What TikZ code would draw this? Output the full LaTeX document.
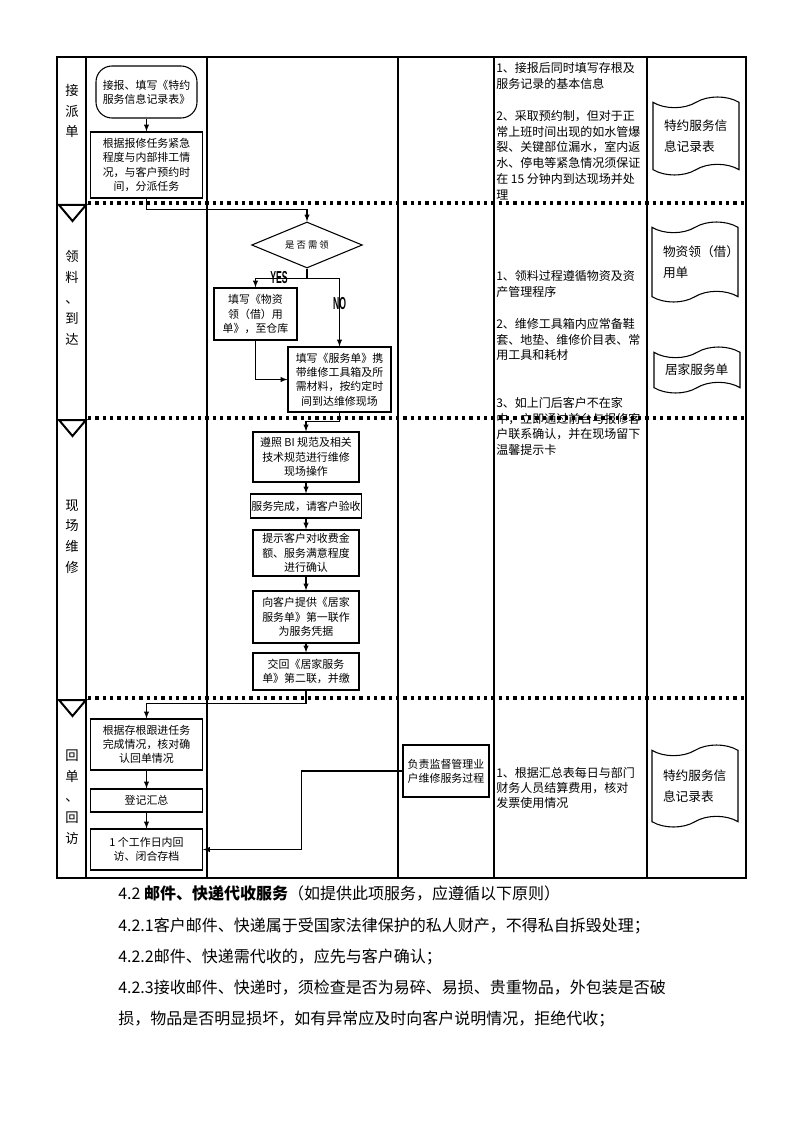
\documentclass[tikz,border=0pt]{standalone}
\usepackage{fontspec}
\setmainfont{Noto Sans CJK SC}
\newfontfamily\yesfont{Liberation Sans}
\usetikzlibrary{
    arrows,
    shapes.geometric,
    shapes.symbols,
    calc,
    positioning
}
\newcommand{\narrowtext}[1]{\scalebox{0.5}[1]{#1}}
\tikzset{
    lane/.style={line width=0.8pt},
    dotsep/.style={line width=2.4pt, dash pattern=on 2.6pt off 2.9pt},
    flagtri/.style={line width=1.5pt, fill=white},
    box/.style={draw, line width=0.8pt, align=center, inner sep=0.5pt, font=\fontsize{8.2pt}{10.7pt}\selectfont},
    startbox/.style={box, rounded corners=12pt},
    askbox/.style={draw, diamond, line width=0.8pt, inner sep=0pt, aspect=2.4, minimum width=83pt, minimum height=34.5pt, font=\fontsize{7pt}{8pt}\selectfont},
    doc/.style={draw, tape, line width=0.8pt, tape bend top=in and out, tape bend bottom=in and out, tape bend height=8pt, inner sep=0pt, align=left, text width=48pt, font=\fontsize{9.5pt}{15.8pt}\selectfont},
    note/.style={anchor=north west, inner sep=0pt, align=left, font=\fontsize{9pt}{11.85pt}\selectfont},
    lanename/.style={align=center, inner sep=0pt, font=\fontsize{10pt}{15.5pt}\selectfont},
    flow/.style={-latex, line width=0.8pt},
    yesno/.style={inner sep=0pt, font=\yesfont\bfseries\fontsize{13pt}{13pt}\selectfont}
}

\begin{document}
\begin{tikzpicture}[x=0.75pt, y=-0.75pt]
    \fill[white] (0,0) rectangle (794,1123);
    \useasboundingbox (0,0) rectangle (794,1123);

    % table frame
    \draw[lane] (57,57) rectangle (746,878);
    \foreach \x in {86,207,398,494,647}
        \draw[lane] (\x,57) -- (\x,878);

    % lane names
    \node[lanename] (lane1) at (72,111) {接\\派\\单};
    \node[lanename] (lane2) at (72,298) {领\\料\\、\\到\\达};
    \node[lanename] (lane3) at (72,536.5) {现\\场\\维\\修};
    \node[lanename] (lane4) at (72,797) {回\\单\\、\\回\\访};

    % flow
    \node[startbox, minimum width=75.75pt, minimum height=39pt] (report) at (146.5,92) {接报、填写《特约\\服务信息记录表》};
    \node[box, minimum width=84pt, minimum height=49.5pt] (assign) at (146.5,165) {根据报修任务紧急\\程度与内部排工情\\况，与客户预约时\\间，分派任务};
    \node[askbox] (need) at (307,245) {是 否 需 领};
    \node[box, minimum width=62.25pt, minimum height=39pt] (borrow) at (255.5,314) {填写《物资\\领（借）用\\单》，至仓库};
    \node[box, minimum width=77.25pt, minimum height=48.75pt] (order) at (339.5,379.5) {填写《服务单》携\\带维修工具箱及所\\需材料，按约定时\\间到达维修现场};
    \node[box, minimum width=79.5pt, minimum height=37.5pt] (repair) at (306,457) {遵照 BI 规范及相关\\技术规范进行维修\\现场操作};
    \node[box, minimum width=79.5pt, minimum height=18pt] (check) at (306,506) {服务完成，请客户验收};
    \node[box, minimum width=79.5pt, minimum height=34.5pt] (confirm) at (306,553) {提示客户对收费金\\额、服务满意程度\\进行确认};
    \node[box, minimum width=79.5pt, minimum height=39pt] (receipt) at (306,617) {向客户提供《居家\\服务单》第一联作\\为服务凭据};
    \node[box, minimum width=79.5pt, minimum height=27.75pt] (handin) at (306,671.5) {交回《居家服务\\单》第二联，并缴};
    \node[box, minimum width=84pt, minimum height=38.25pt] (verify) at (146.5,744.5) {根据存根跟进任务\\完成情况，核对确\\认回单情况};
    \node[box, minimum width=84pt, minimum height=17.25pt] (summary) at (146.5,800.5) {登记汇总};
    \node[box, minimum width=84pt, minimum height=30.75pt] (revisit) at (146.5,849.5) {1 个工作日内回\\访、闭合存档};
    \node[box, minimum width=64.5pt, minimum height=39pt] (supervise) at (446,771) {负责监督管理业\\户维修服务过程};

    \node[yesno] (yes) at (279,278) {\narrowtext{YES}};
    \node[yesno] (no) at (339.5,304) {\narrowtext{NO}};

    \draw[flow] (report.south) -- (assign.north);
    \draw[flow] (assign.south) -- ++(0,11) -| (need.north);
    \draw[flow] (need.south) -- ++(0,10) -| (borrow.north);
    \draw[flow] (need.south) -- ++(0,10) -| (order.north);
    \draw[flow] (borrow.south) |- (order.west);
    \draw[flow] (order.south) -- ++(0,9) -| (repair.north);
    \draw[flow] (repair) -- (check);
    \draw[flow] (check) -- (confirm);
    \draw[flow] (confirm) -- (receipt);
    \draw[flow] (receipt) -- (handin);
    \draw[flow] (handin.south) -- ++(0,13) -| (verify.north);
    \draw[flow] (verify) -- (summary);
    \draw[flow] (summary) -- (revisit);
    \draw[flow] (supervise.west) -- ++(-101,0) |- (revisit.east);

    % notes
    \node[note] (tip1) at (496,62.5) {1、接报后同时填写存根及\\服务记录的基本信息\\[11.85pt]2、采取预约制，但对于正\\常上班时间出现的如水管爆\\裂、关键部位漏水，室内返\\水、停电等紧急情况须保证\\在 15 分钟内到达现场并处\\理};
    \node[note] (tip2) at (496,270.5) {1、领料过程遵循物资及资\\产管理程序\\[11.85pt]2、维修工具箱内应常备鞋\\套、地垫、维修价目表、常\\用工具和耗材\\[23.7pt]3、如上门后客户不在家\\中，立即通过前台与报修客\\户联系确认，并在现场留下\\温馨提示卡};
    \node[note, font=\fontsize{9pt}{11pt}\selectfont] (tip4) at (496,767.5) {1、根据汇总表每日与部门\\财务人员结算费用，核对\\发票使用情况};

    % forms
    \node[doc, minimum width=64.5pt, minimum height=58.5pt] (form1) at (696,136) {特约服务信\\息记录表};
    \node[doc, minimum width=64.5pt, minimum height=60pt] (form2) at (695,262) {物资领（借）\\用单};
    \node[doc, minimum width=64.5pt, minimum height=34.5pt] (form3) at (697,370) {居家服务单};
    \node[doc, minimum width=64.5pt, minimum height=61.5pt] (form4) at (695,786) {特约服务信\\息记录表};

    % stage separators
    \foreach \y in {203,418,698} {
        \draw[dotsep] (88,\y) -- (746,\y);
        \draw[flagtri] (59,\y+2) -- (86,\y+2) -- (72.5,\y+18) -- cycle;
    }

    % text below the table
    \node[anchor=north west, inner sep=0pt, align=left, font=\fontsize{12pt}{23.3pt}\selectfont] (rules) at (118,885.8)
        {4.2 \textbf{邮件、快递代收服务}（如提供此项服务，应遵循以下原则）\\4.2.1客户邮件、快递属于受国家法律保护的私人财产，不得私自拆毁处理；\\4.2.2邮件、快递需代收的，应先与客户确认；\\4.2.3接收邮件、快递时，须检查是否为易碎、易损、贵重物品，外包装是否破\\损，物品是否明显损坏，如有异常应及时向客户说明情况，拒绝代收；};
\end{tikzpicture}
\end{document}
